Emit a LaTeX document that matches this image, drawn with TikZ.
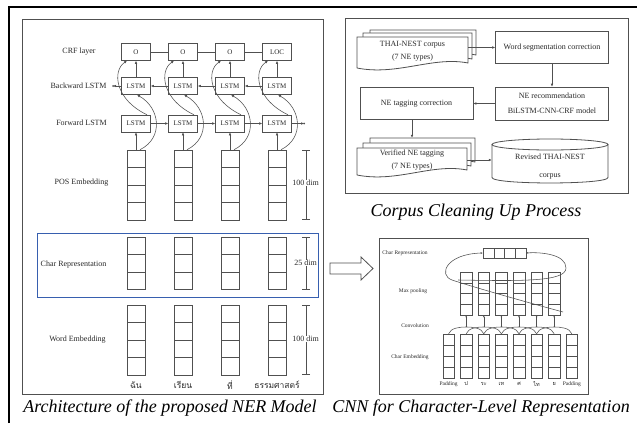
\documentclass[tikz,border=0pt]{standalone}
\usepackage{fontspec}
\setmainfont{Liberation Serif}
\newfontfamily\thaifont[Script=Thai]{Loma}
\usetikzlibrary{arrows.meta}

\definecolor{linegray}{RGB}{80,80,80}
\definecolor{textgray}{RGB}{40,40,40}
\definecolor{boxblue}{RGB}{55,95,175}

\tikzset{
  panel/.style={draw=linegray, line width=0.8pt},
  wire/.style={draw=linegray, line width=0.55pt},
  smarrow/.style={-{Latex[length=2pt,width=1.8pt]}},
  lbl/.style={font=\fontsize{8}{9}\selectfont},
  flowtxt/.style={font=\fontsize{8}{13}\selectfont, align=center, inner sep=0pt},
  fbox/.style={draw=linegray, line width=0.55pt, font=\fontsize{8}{15}\selectfont, align=center,
    minimum width=113pt, minimum height=32pt, inner sep=0pt},
  lbox/.style={draw=linegray, line width=0.55pt, font=\fontsize{7}{8}\selectfont,
    minimum width=29pt, minimum height=17pt, inner sep=0pt},
  cell/.style={draw=linegray, line width=0.55pt, minimum width=18pt, minimum height=17.5pt, inner sep=0pt},
  ccell/.style={draw=linegray, line width=0.45pt, minimum width=11.5pt, minimum height=11pt, inner sep=0pt},
  pcell/.style={draw=linegray, line width=0.45pt, minimum width=11.5pt, minimum height=10.75pt, inner sep=0pt},
  rcell/.style={draw=linegray, line width=0.45pt, minimum width=10.75pt, minimum height=10pt, inner sep=0pt},
  cnnlbl/.style={font=\fontsize{5.5}{6}\selectfont},
  thaiword/.style={font=\thaifont\fontsize{8.5}{9}\selectfont},
  tok/.style={font=\fontsize{5.5}{6}\selectfont},
  captxt/.style={font=\fontsize{18}{20}\selectfont\itshape, text=black},
}

% document stack page with wavy bottom
\newcommand{\nedoc}[4]{%
  \draw[panel, fill=white] (#1,#4) -- (#1,#2) -- (#3,#2) -- (#3,#4-5)
    .. controls (#3-35,#4-12) and (#1+40,#4+8) .. (#1,#4);}

\begin{document}
\begin{tikzpicture}[x=1pt, y=-1pt, >={Latex[length=3pt,width=2.6pt]}, every node/.style={text=textgray}]
\useasboundingbox (0,0) rectangle (637,423);
\fill[white] (0,0) rectangle (637,423);

% outer frame
\draw[line width=2.4pt] (9,423) -- (9,7) -- (637,7);

% ---------- NER model ----------
\draw[panel] (22,19) rectangle (323,394);
\draw[boxblue, line width=0.9pt] (37,233) rectangle (318,297);

\node[lbl] (crfl) at (79,52) {CRF layer};
\node[lbl] (bwl) at (78.5,86) {Backward LSTM};
\node[lbl] (fwl) at (81.5,123) {Forward LSTM};
\node[lbl] (posl) at (81.5,183) {POS Embedding};
\node[lbl] (chrl) at (73.5,265) {Char Representation};
\node[lbl] (wrdl) at (77.5,340) {Word Embedding};

\foreach \i/\x/\t/\w in {1/136/O/ฉัน, 2/183/O/เรียน, 3/230/O/ที่, 4/277/LOC/ธรรมศาสตร์}{
  \node[lbox] (c\i) at (\x,52) {\t};
  \node[lbox] (b\i) at (\x,86) {LSTM};
  \node[lbox] (f\i) at (\x,123.5) {LSTM};
  \foreach \r in {1,...,4}{
    \node[cell] (pos-\i-\r) at (\x,141.25+17.5*\r) {};
    \node[cell] (word-\i-\r) at (\x,296.25+17.5*\r) {};
  }
  \foreach \r in {1,2,3}
    \node[cell] (chr-\i-\r) at (\x,228.25+17.5*\r) {};
  \node[thaiword] (w\i) at (\x,385) {\w};
}

\foreach \i/\j in {1/2,2/3,3/4}{
  \draw[wire] (c\i) -- (c\j);
  \draw[wire,->] (b\j) -- (b\i);
  \draw[wire,->] (f\i) -- (f\j);
}
\coordinate (bout) at (113,86);
\coordinate (fout) at (304,123.5);
\draw[wire,->] (b1) -- (bout);
\draw[wire,->] (f4) -- (fout);
\fill[linegray] (bout) circle (1pt) (fout) circle (1pt);

\foreach \i in {1,...,4}{
  \draw[wire,->] (pos-\i-1) -- (f\i);
  \draw[wire,->] (b\i) -- (c\i);
  \draw[wire,->] ([xshift=11pt]f\i.north) .. controls +(-32,-15) and +(-15,10) .. ([xshift=-9pt]c\i.south);
  \draw[wire,->] ([xshift=4pt]pos-\i-1.north) .. controls +(24,-12) and +(23,13) .. ([xshift=1pt]b\i.south);
}

% dimension bars
\foreach \k/\a/\b/\m/\t in {1/150/220/183/100 dim, 2/237/289.5/263/25 dim, 3/305/375/339/100 dim}{
  \draw[wire, {Bar[width=8pt]}-{Bar[width=8pt]}] (306,\a) -- (306,\b);
  \node[lbl, fill=white, inner sep=0.3pt] (dim\k) at (305.5,\m) {\t};
}
\draw[boxblue, line width=0.9pt] (318,233) -- (318,297);

\node[captxt] (capA) at (170,408) {Architecture of the proposed NER Model};

% ---------- corpus cleaning ----------
\draw[panel] (345,18) rectangle (628,193);

\nedoc{370}{30}{476}{60}
\nedoc{363}{33}{472}{64}
\nedoc{357}{37}{468}{68}
\node[flowtxt, minimum width=111pt] (thai) at (412.5,51.5) {THAI-NEST corpus\\(7 NE types)};

\node[fbox] (wseg) at (552,47.5) {Word segmentation correction};
\node[fbox, minimum height=33pt] (nerec) at (552,103.5) {NE recommendation\\BiLSTM-CNN-CRF model};
\node[fbox] (netag) at (416.5,103.5) {NE tagging correction};

\nedoc{370}{138}{475}{167}
\nedoc{363}{143}{471}{171}
\nedoc{357}{148}{467}{175}
\node[flowtxt, minimum width=110pt, minimum height=44pt] (ver) at (412,160) {Verified NE tagging\\(7 NE types)};

\draw[panel, fill=white] (492,144.5) -- (492,177.5) .. controls (492,184.8) and (608,184.8) .. (608,177.5) -- (608,144.5);
\draw[panel, fill=white] (550,144.5) ellipse [x radius=58, y radius=5.5];
\node[flowtxt, minimum width=116pt, minimum height=44pt] (rev) at (550,166.5) {Revised THAI-NEST\\[5pt]corpus};

\draw[wire,->] (thai.east |- wseg.west) -- (wseg.west);
\draw[wire,->] (wseg) -- (nerec);
\draw[wire,->] (nerec) -- (netag);
\draw[wire,->] (netag.south -| ver.north) -- (ver.north);
\draw[wire,->] (ver.east) -- (ver.east -| rev.west);

\node[captxt] (capB) at (476,212) {Corpus Cleaning Up Process};

% block arrow
\draw[panel, fill=white] (330,263) -- (361,263) -- (361,257) -- (373,268.5) -- (361,280) -- (361,274) -- (330,274) -- cycle;

% ---------- CNN ----------
\draw[panel] (379,238) rectangle (588,394);

\node[cnnlbl] (crep) at (405,253) {Char Representation};
\node[cnnlbl] (mpool) at (413,291) {Max pooling};
\node[cnnlbl] (convl) at (415,326) {Convolution};
\node[cnnlbl] (cemb) at (410,357) {Char Embedding};

\foreach \k/\t in {1/Padding, 2/{\thaifont ป}, 3/{\thaifont ระ}, 4/{\thaifont เท}, 5/{\thaifont ศ}, 6/{\thaifont ไท}, 7/{\thaifont ย}, 8/Padding}{
  \foreach \r in {1,...,4}
    \node[ccell] (emb-\k-\r) at ({431+17.6*\k},{328.5+11*\r}) {};
  \node[tok] (tok\k) at ({431+17.6*\k},384) {\t};
}

\foreach \k in {2,...,7}{
  \pgfmathtruncatemacro{\p}{\k-1}
  \pgfmathtruncatemacro{\n}{\k+1}
  \foreach \r in {1,...,4}
    \node[pcell] (pool-\k-\r) at ({431+17.6*\k},{266.6+10.75*\r}) {};
  \coordinate (conv\k) at ({431+17.6*\k},327);
  \draw[wire] (emb-\p-1.north) .. controls +(2,-6) and +(-6,0) .. (conv\k) .. controls +(6,0) and +(-2,-6) .. (emb-\n-1.north);
  \draw[wire,smarrow] (conv\k) -- (pool-\k-4.south);
}

\foreach \r in {1,...,4}
  \node[rcell] (rep-\r) at ({477.6+10.75*\r},253) {};

\coordinate (mpA) at (563,312);
\coordinate (mpB) at (458,280);
\draw[wire,smarrow] (mpA) .. controls (515,299) and (470,286) .. (452,280) .. controls (438,275) and (446,254) .. (rep-1.west);
\draw[wire,smarrow] (mpB) .. controls (520,281) and (566,282) .. (566,268) .. controls (566,254) and (540,252) .. (rep-4.east);

\node[captxt] (capC) at (481,408) {CNN for Character-Level Representation};

\end{tikzpicture}
\end{document}
